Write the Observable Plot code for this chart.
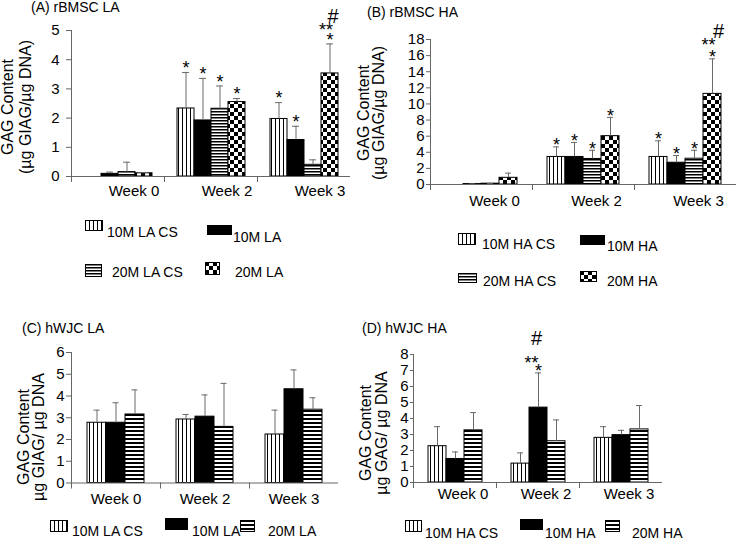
<!DOCTYPE html>
<html><head><meta charset="utf-8">
<script src="https://cdn.jsdelivr.net/npm/d3@7"></script>
<script src="https://cdn.jsdelivr.net/npm/@observablehq/plot@0.6"></script>
<style>
body{margin:0;background:#fff;}
#root{position:relative;width:739px;height:540px;overflow:hidden;font-family:"Liberation Sans",Arial,sans-serif;color:#000;}
.abs{position:absolute;white-space:nowrap;}
.title{font-size:14px;line-height:14px;}
.ylab{font-size:16px;text-align:center;transform:translate(-50%,-50%) rotate(-90deg);}
.leg{font-size:14px;line-height:14px;transform:translateY(-50%);}
.panel{position:absolute;}
</style></head>
<body>
<svg width="0" height="0" style="position:absolute;left:0;top:0">
<defs>
<pattern id="vs" width="4" height="4" patternUnits="userSpaceOnUse"><rect width="4" height="4" fill="#fff"/><rect x="0" width="1" height="4" fill="#000"/></pattern>
<pattern id="hs3" width="3" height="3" patternUnits="userSpaceOnUse"><rect width="3" height="3" fill="#fff"/><rect width="3" height="1.5" fill="#000"/></pattern>
<pattern id="hs4" width="4" height="4" patternUnits="userSpaceOnUse"><rect width="4" height="4" fill="#fff"/><rect width="4" height="2" fill="#000"/></pattern>
<pattern id="ck" width="8" height="8" patternUnits="userSpaceOnUse"><rect width="8" height="8" fill="#fff"/><rect width="4" height="4" fill="#000"/><rect x="4" y="4" width="4" height="4" fill="#000"/></pattern>
</defs></svg>
<div id="root"></div>
<script>
// ---------- data ----------
const weeks = ["Week 0", "Week 2", "Week 3"];

// (A) rBMSC LA
const seriesA = ["10M LA CS", "10M LA", "20M LA CS", "20M LA"];
const meanA = [[0, 0.09, 0.15, 0.11], [2.33, 1.92, 2.32, 2.55], [1.97, 1.25, 0.40, 3.53]];
const errA  = [[0, 0.06, 0.34, 0.02], [1.23, 1.44, 0.78, 0.12], [0.56, 0.47, 0.17, 1.01]];
const starA = [["", "", "", ""], ["*", "*", "*", "*"], ["*", "*", "", "*"]];
const dblA  = [["", "", "", ""], ["", "", "", ""], ["", "", "", "**"]];
const hashA = [["", "", "", ""], ["", "", "", ""], ["", "", "", "#"]];
const ticksA = [0, 1, 2, 3, 4, 5];

// (B) rBMSC HA
const seriesB = ["10M HA CS", "10M HA", "20M HA CS", "20M HA"];
const meanB = [[0, 0.05, 0.1, 0.83], [3.42, 3.42, 3.17, 6.0], [3.42, 2.7, 3.2, 11.25]];
const errB  = [[0, 0.02, 0.04, 0.58], [1.25, 1.8, 1.08, 2.33], [2.0, 0.9, 1.05, 4.35]];
const starB = [["", "", "", ""], ["*", "*", "*", "*"], ["*", "*", "*", "*"]];
const dblB  = [["", "", "", ""], ["", "", "", ""], ["", "", "", "**"]];
const hashB = [["", "", "", ""], ["", "", "", ""], ["", "", "", "#"]];
const ticksB = [0, 2, 4, 6, 8, 10, 12, 14, 16, 18];

// (C) hWJC LA
const seriesC = ["10M LA CS", "10M LA", "20M LA"];
const meanC = [[2.77, 2.77, 3.15], [2.92, 3.05, 2.58], [2.23, 4.31, 3.37]];
const errC  = [[0.58, 0.92, 1.13], [0.23, 1.0, 2.0], [1.12, 0.89, 0.55]];
const starC = [["", "", ""], ["", "", ""], ["", "", ""]];
const dblC  = [["", "", ""], ["", "", ""], ["", "", ""]];
const hashC = [["", "", ""], ["", "", ""], ["", "", ""]];
const ticksC = [0, 1, 2, 3, 4, 5, 6];

// (D) hWJC HA
const seriesD = ["10M HA CS", "10M HA", "20M HA"];
const meanD = [[2.27, 1.47, 3.26], [1.18, 4.68, 2.58], [2.79, 2.96, 3.32]];
const errD  = [[1.22, 0.44, 1.11], [0.67, 2.17, 1.33], [0.70, 0.30, 1.49]];
const starD = [["", "", ""], ["", "*", ""], ["", "", ""]];
const dblD  = [["", "", ""], ["", "**", ""], ["", "", ""]];
const hashD = [["", "", ""], ["", "#", ""], ["", "", ""]];
const ticksD = [0, 1, 2, 3, 4, 5, 6, 7, 8];

// ---------- drawing ----------
const FONT = "Liberation Sans, Arial, sans-serif";
const AXIS = "#666";
const root = document.getElementById("root");

function panel(o) {
  const rows = [];
  weeks.forEach((w, i) => o.series.forEach((s, j) => rows.push({
    week: w, series: s, value: o.mean[i][j], err: o.err[i][j],
    top: o.mean[i][j] + o.err[i][j],
    star: o.star[i][j], dbl: o.dbl[i][j], hash: o.hash[i][j]
  })));
  const withErr = rows.filter(d => d.err > 0);
  const plotH = o.height - o.mt - o.mb;
  const chart = Plot.plot({
    width: o.width, height: o.height,
    marginTop: o.mt, marginBottom: o.mb, marginLeft: o.ml, marginRight: o.mr,
    style: {fontFamily: FONT, fontSize: "15px", color: "#000", background: "none", overflow: "visible"},
    fx: {domain: weeks, padding: 0, label: null},
    x: {domain: o.series, paddingInner: 0, paddingOuter: o.po, axis: null},
    y: {domain: [0, o.yMax], label: null},
    color: {domain: o.series, range: o.fills},
    marks: [
      Plot.barY(rows, {fx: "week", x: "series", y: "value", fill: "series", stroke: "#000", strokeWidth: 1}),
      Plot.ruleX(withErr, {fx: "week", x: "series", y1: "value", y2: "top", stroke: "#6a6a6a"}),
      Plot.tickY(withErr, {fx: "week", x: "series", y: "top", stroke: "#6a6a6a", insetLeft: o.cap, insetRight: o.cap}),
      Plot.ruleY([0], {stroke: AXIS}),
      Plot.frame({anchor: "left", facetAnchor: "left", stroke: AXIS}),
      Plot.frame({anchor: "left", insetTop: plotH, insetBottom: -5, stroke: AXIS}),
      Plot.axisY({ticks: o.ticks, tickFormat: d3.format("d"), tickSize: o.ts, tickPadding: o.tp, stroke: AXIS, fill: "#000", fontSize: 15, label: null}),
      Plot.axisFx({anchor: "bottom", tickSize: 0, tickPadding: o.fxp, dx: o.fxdx, fill: "#000", fontSize: 15, label: null}),
      Plot.text(rows, {filter: d => d.star, fx: "week", x: "series", y: "top", text: "star", fontSize: 18, dy: o.sdy}),
      Plot.text(rows, {filter: d => d.dbl, fx: "week", x: "series", y: "top", text: "dbl", fontSize: 18, dy: o.ddy, dx: o.ddx}),
      Plot.text(rows, {filter: d => d.hash, fx: "week", x: "series", y: "top", text: "hash", fontSize: 20, dy: o.hdy, dx: o.hdx})
    ]
  });
  chart.classList.add("panel");
  chart.style.left = o.left + "px";
  chart.style.top = o.top + "px";
  root.appendChild(chart);
}

panel({series: seriesA, mean: meanA, err: errA, star: starA, dbl: dblA, hash: hashA, ticks: ticksA, yMax: 5,
  fills: ["url(#vs)", "#000", "url(#hs3)", "url(#ck)"],
  left: 0, top: 0, width: 360, height: 205, mt: 30, mb: 29, ml: 70, mr: 10, po: 0.66,
  ts: 5, tp: 7, fxp: 9, fxdx: 16, cap: 5, sdy: -4, ddy: -13.5, ddx: -4, hdy: -27, hdx: 3});

panel({series: seriesB, mean: meanB, err: errB, star: starB, dbl: dblB, hash: hashB, ticks: ticksB, yMax: 18,
  fills: ["url(#vs)", "#000", "url(#hs3)", "url(#ck)"],
  left: 370, top: 0, width: 369, height: 210, mt: 39, mb: 26, ml: 59, mr: 3, po: 0.69,
  ts: 4, tp: 2, fxp: 11, fxdx: 13, cap: 6, sdy: -1.5, ddy: -13.5, ddx: -4, hdy: -27, hdx: 6});

panel({series: seriesC, mean: meanC, err: errC, star: starC, dbl: dblC, hash: hashC, ticks: ticksC, yMax: 6,
  fills: ["url(#vs)", "#000", "url(#hs4)"],
  left: 0, top: 330, width: 345, height: 180, mt: 22, mb: 27.5, ml: 70, mr: 7, po: 0.73,
  ts: 5, tp: 2, fxp: 10.5, fxdx: 0, cap: 6.5, sdy: -1.5, ddy: -9.5, ddx: -7, hdy: -34, hdx: -2});

panel({series: seriesD, mean: meanD, err: errD, star: starD, dbl: dblD, hash: hashD, ticks: ticksD, yMax: 8,
  fills: ["url(#vs)", "#000", "url(#hs4)"],
  left: 370, top: 330, width: 300, height: 180, mt: 24, mb: 28, ml: 43, mr: 8, po: 0.72,
  ts: 3, tp: 2, fxp: 6, fxdx: 8, cap: 6, sdy: -1.5, ddy: -9.5, ddx: -7, hdy: -34, hdx: -2});

// ---------- titles, axis titles, legends ----------
function addText(cls, html, left, top, extra) {
  const d = document.createElement("div");
  d.className = "abs " + cls;
  d.innerHTML = html;
  d.style.left = left + "px";
  d.style.top = top + "px";
  if (extra) Object.assign(d.style, extra);
  root.appendChild(d);
}
function swatch(fill, left, top, w, h) {
  const ns = "http://www.w3.org/2000/svg";
  const s = document.createElementNS(ns, "svg");
  s.setAttribute("width", w); s.setAttribute("height", h);
  s.style.position = "absolute"; s.style.left = left + "px"; s.style.top = top + "px";
  const r = document.createElementNS(ns, "rect");
  r.setAttribute("x", 0.5); r.setAttribute("y", 0.5);
  r.setAttribute("width", w - 1); r.setAttribute("height", h - 1);
  r.setAttribute("fill", fill); r.setAttribute("stroke", "#000");
  s.appendChild(r);
  root.appendChild(s);
}

addText("title", "(A) rBMSC LA", 31, 0);
addText("title", "(B) rBMSC HA", 367, 5);
addText("title", "(C) hWJC LA", 22, 321);
addText("title", "(D) hWJC HA", 362, 321);

addText("ylab", "GAG Content<br>(µg GIAG/µg DNA)", 17, 107, {lineHeight: "18px"});
addText("ylab", "GAG Content<br>(µg GIAG/µg DNA)", 371, 113, {lineHeight: "15px"});
addText("ylab", "GAG Content<br>µg GIAG/ µg DNA", 31, 437, {lineHeight: "15px"});
addText("ylab", "GAG Content<br>µg GAG/ µg DNA", 374, 433, {lineHeight: "16px"});

// legend A
swatch("url(#vs)", 85, 220, 18, 11); addText("leg", seriesA[0], 107, 232);
swatch("#000", 207, 225, 25, 10); addText("leg", seriesA[1], 233, 237);
swatch("url(#hs3)", 85, 264, 17, 13); addText("leg", seriesA[2], 112, 272);
swatch("url(#ck)", 205, 262, 15, 13); addText("leg", seriesA[3], 235, 272);
// legend B
swatch("url(#vs)", 458, 233, 18, 12); addText("leg", seriesB[0], 482, 243.5);
swatch("#000", 580, 235, 25, 10); addText("leg", seriesB[1], 607, 246);
swatch("url(#hs3)", 458, 273, 19, 10); addText("leg", seriesB[2], 483, 281);
swatch("url(#ck)", 580, 271, 17, 11); addText("leg", seriesB[3], 607, 281);
// legend C
swatch("url(#vs)", 50, 520, 18, 12); addText("leg", seriesC[0], 72, 531);
swatch("#000", 165, 518, 23, 12); addText("leg", seriesC[1], 192, 531);
swatch("url(#hs4)", 240, 520, 15, 12); addText("leg", seriesC[2], 268, 531);
// legend D
swatch("url(#vs)", 405, 520, 17, 12); addText("leg", seriesD[0], 425, 533);
swatch("#000", 520, 519, 23, 11); addText("leg", seriesD[1], 545, 533);
swatch("url(#hs4)", 605, 520, 15, 12); addText("leg", seriesD[2], 632, 533);
</script>
</body></html>
